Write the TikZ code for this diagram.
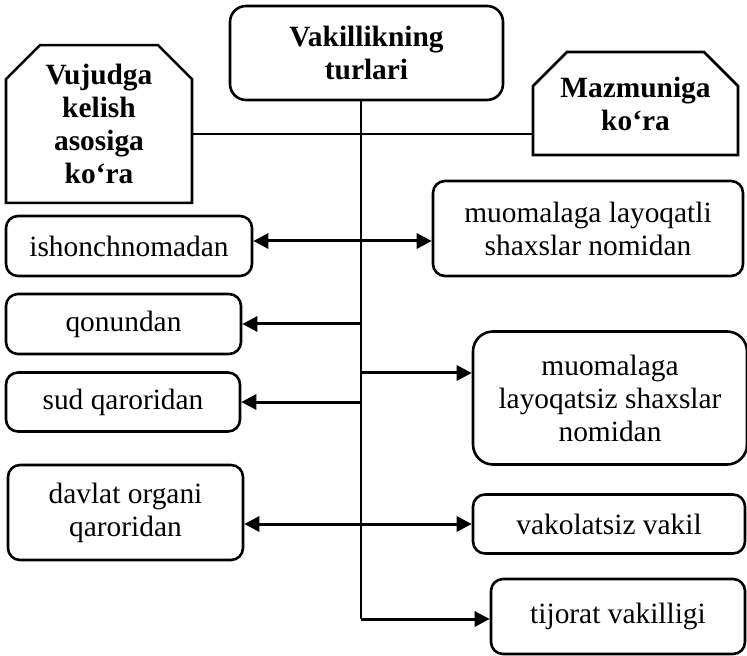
\documentclass[tikz,border=0pt]{standalone}
\usepackage{fontspec}
\setmainfont{Liberation Serif}
\usetikzlibrary{shapes.misc,arrows.meta}

\begin{document}
\begin{tikzpicture}[
  x=0.5pt, y=-0.5pt,
  font=\fontsize{14.7}{16.5}\selectfont,
  box/.style={draw, line width=1.3pt, rounded corners=6pt, align=center, inner sep=1pt},
  head/.style={draw, line width=1.3pt, align=center, inner sep=1pt, font=\fontsize{14.7}{16.5}\selectfont\bfseries,
    chamfered rectangle, chamfered rectangle corners={north west,north east},
    chamfered rectangle xsep=8.5pt, chamfered rectangle ysep=8.5pt},
  arr/.style={line width=1.5pt, -{Triangle[length=7.5pt,width=7.5pt]}},
  spine/.style={line width=1pt}
]
\useasboundingbox (0,0) rectangle (747,656);

% Title
\node[box, rounded corners=8pt, font=\fontsize{14.7}{16.5}\selectfont\bfseries,
  minimum width=136.5pt, minimum height=47pt] (title) at (366.5,53) {Vakillikning\\turlari};

% Headings
\node[head, minimum width=93pt, minimum height=77pt] (basis) at (99,124) {Vujudga\\kelish\\asosiga\\ko‘ra};
\node[head, minimum width=102.5pt, minimum height=51.5pt] (content) at (635.5,103.5) {Mazmuniga\\ko‘ra};

% Left column
\node[box, minimum width=123pt, minimum height=30pt] (proxy) at (129,246) {ishonchnomadan};
\node[box, minimum width=117.5pt, minimum height=30pt] (law) at (123.5,324) {qonundan};
\node[box, minimum width=117pt, minimum height=29.5pt] (court) at (123,402) {sud qaroridan};
\node[box, minimum width=117.5pt, minimum height=47.5pt] (organ) at (125.5,512.5) {davlat organi\\qaroridan};

% Right column
\node[box, minimum width=155pt, minimum height=47.5pt] (capable) at (588,228.5) {muomalaga layoqatli\\shaxslar nomidan};
\node[box, rounded corners=10pt, minimum width=137pt, minimum height=66.5pt] (incapable) at (610,398) {muomalaga\\layoqatsiz shaxslar\\nomidan};
\node[box, minimum width=136pt, minimum height=29.5pt] (unauth) at (609,524) {vakolatsiz vakil};
\node[box, minimum width=127pt, minimum height=37.5pt] (trade) at (618,616.5) {tijorat vakilligi};

% Spine
\coordinate (hub) at (361,134);
\coordinate (bend) at (361,619);
\draw[line width=0.75pt] (basis.east |- hub) -- (content.west |- hub);
\draw[spine] (title.south -| hub) -- (bend);

% Arrows
\draw[arr, {Triangle[length=7.5pt,width=7.5pt]}-{Triangle[length=7.5pt,width=7.5pt]}]
  ([yshift=2.5pt]proxy.east) -- ([yshift=2.5pt]proxy.east -| capable.west);
\draw[arr] (law.east -| hub) -- (law.east);
\draw[arr] ([yshift=12.5pt]incapable.west -| hub) -- ([yshift=12.5pt]incapable.west);
\draw[arr] (court.east -| hub) -- (court.east);
\draw[arr, {Triangle[length=7.5pt,width=7.5pt]}-{Triangle[length=7.5pt,width=7.5pt]}]
  (organ.east |- unauth.west) -- (unauth.west);
\draw[arr] (bend) -- (bend -| trade.west);
\end{tikzpicture}
\end{document}
